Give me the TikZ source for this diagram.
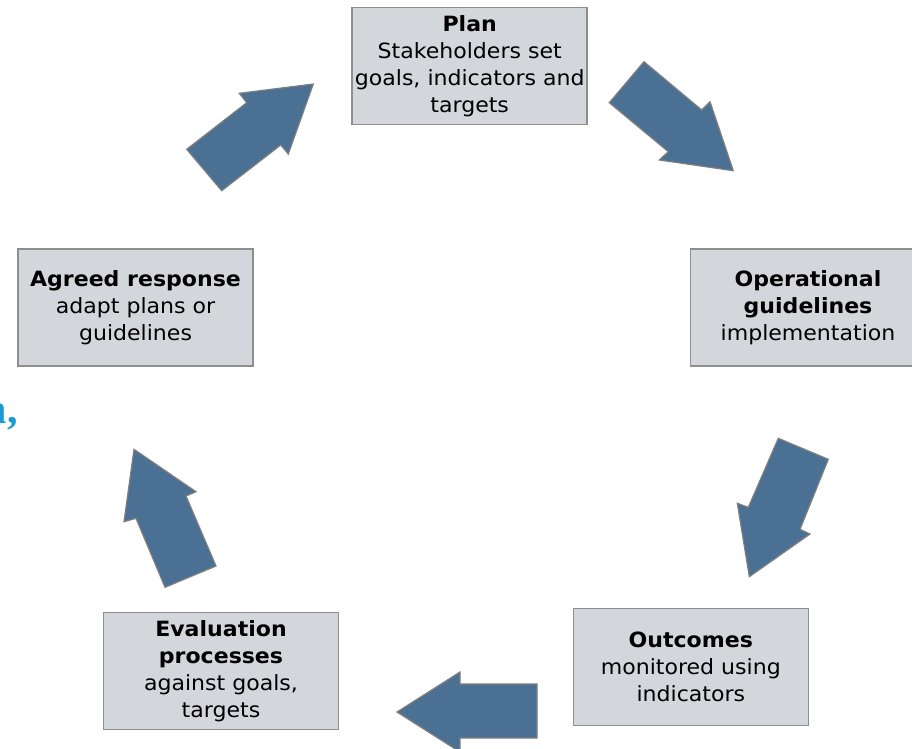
\documentclass[tikz,border=0pt]{standalone}
\usepackage{fontspec}
\setmainfont{DejaVu Sans}[FakeStretch=1.05]
\newfontfamily\bluefont{Liberation Serif}
\definecolor{boxfill}{HTML}{D3D7DB}
\definecolor{boxline}{HTML}{8E8E8E}
\definecolor{arrowfill}{HTML}{4A7194}
\definecolor{arrowline}{HTML}{7F7F7F}
\definecolor{titleblue}{HTML}{1B9BD1}
\begin{document}
\begin{tikzpicture}[x=1pt,y=-1pt,
  stagebox/.style={draw=boxline, fill=boxfill, line width=1.5pt,
    minimum width=235pt, minimum height=117pt, inner sep=0pt,
    align=center, font=\fontsize{21}{27}\selectfont},
  blockarrow/.style={draw=arrowline, fill=arrowfill, line width=1.2pt, line join=miter}]
\useasboundingbox (0,0) rectangle (912,748);
\fill[white] (0,0) rectangle (912,748);

\node[stagebox] (plan) at (469.7,66) {\textbf{Plan}\\Stakeholders set\\goals, indicators and\\targets};
\node[stagebox] (oper) at (808,307.7) {\textbf{Operational}\\\textbf{guidelines}\\implementation};
\node[stagebox] (agreed) at (135.5,307.7) {\textbf{Agreed response}\\adapt plans or\\guidelines};
\node[stagebox] (outc) at (690.8,667) {\textbf{Outcomes}\\monitored using\\indicators};
\node[stagebox] (eval) at (221,670.8) {\textbf{Evaluation}\\\textbf{processes}\\against goals,\\targets};

\node[anchor=base east, inner sep=0pt, text=titleblue, font=\bluefont\bfseries\fontsize{42}{42}\selectfont] (cut) at (18,423) {n,};

% block arrows
\draw[blockarrow] (313.3,84) -- (239.3,93.3) -- (246.7,102.7) -- (186.7,149.3) -- (221.7,190.7) -- (280.7,145) -- (288.3,154) -- cycle;
\draw[blockarrow] (644,61.7) -- (609.3,102.7) -- (668.3,151.7) -- (659.3,160) -- (733.3,170.7) -- (710,101.7) -- (701.7,110) -- cycle;
\draw[blockarrow] (778.3,438.3) -- (828.3,459.3) -- (800,529.3) -- (810,534) -- (749.3,576.7) -- (737.3,503.3) -- (748.3,507.3) -- cycle;
\draw[blockarrow] (537,684) -- (537,738) -- (460,738) -- (460,752) -- (397,712) -- (460,672) -- (460,684) -- cycle;
\draw[blockarrow] (134,449.3) -- (196,491.7) -- (186,496) -- (216,566) -- (165,587.3) -- (136,518.3) -- (124,521.7) -- cycle;
\end{tikzpicture}
\end{document}
